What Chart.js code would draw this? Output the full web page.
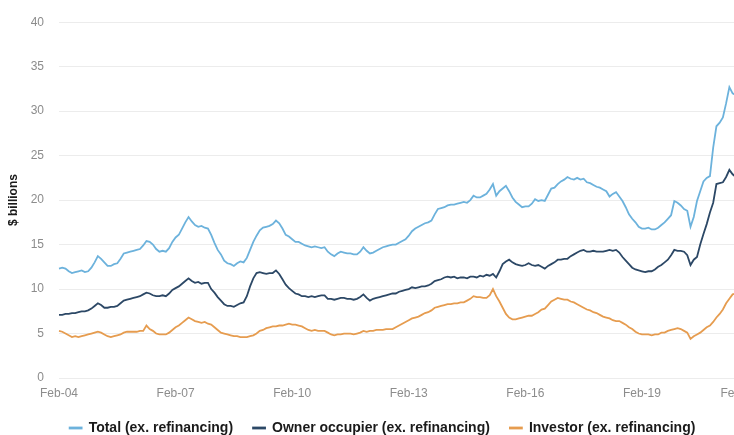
<!DOCTYPE html>
<html>
<head>
<meta charset="utf-8">
<script src="https://cdn.jsdelivr.net/npm/chart.js@4.4.0/dist/chart.umd.min.js"></script>
<style>
  html, body { margin: 0; padding: 0; background: #ffffff; overflow: hidden; width: 734px; height: 435px; }
  #wrap { position: absolute; left: 0; top: 0; width: 780px; height: 445px; }
</style>
</head>
<body>
<div id="wrap"><canvas id="c" width="780" height="445"></canvas></div>
<script>
// Month names used to build the monthly category labels (Feb-04 ... Apr-22)
const monthNames = ['Jan','Feb','Mar','Apr','May','Jun','Jul','Aug','Sep','Oct','Nov','Dec'];
const categoryCount = 219;
// Tick labels shown on the x axis
const tickLabels = ['Feb-04','Feb-07','Feb-10','Feb-13','Feb-16','Feb-19','Feb-22'];
// Y axis ticks
const yTicks = [0, 5, 10, 15, 20, 25, 30, 35, 40];

const seriesNames = ['Total (ex. refinancing)', 'Owner occupier (ex. refinancing)', 'Investor (ex. refinancing)'];

// Monthly values, $ billions, Feb-04 onward (one row per year Feb..Jan)
const total = [
  12.3, 12.4, 12.3, 12.0, 11.8, 11.9, 12.0, 12.1, 11.9, 12.0, 12.4, 13.0,
  13.7, 13.4, 13.0, 12.6, 12.6, 12.8, 12.9, 13.4, 14.0, 14.1, 14.2, 14.3,
  14.4, 14.5, 14.9, 15.4, 15.3, 15.0, 14.5, 14.2, 14.3, 14.2, 14.6, 15.3,
  15.8, 16.1, 16.8, 17.5, 18.1, 17.6, 17.2, 17.0, 17.1, 16.9, 16.8, 16.1,
  15.2, 14.4, 13.9, 13.2, 12.9, 12.8, 12.6, 12.9, 13.1, 13.0, 13.5, 14.4,
  15.3, 16.0, 16.6, 16.9, 17.0, 17.1, 17.3, 17.7, 17.4, 16.8, 16.1, 15.9,
  15.6, 15.3, 15.3, 15.1, 14.9, 14.8, 14.7, 14.8, 14.7, 14.6, 14.7, 14.2,
  13.9, 13.7, 14.0, 14.2, 14.1, 14.0, 14.0, 13.9, 13.9, 14.2, 14.7, 14.3,
  14.0, 14.1, 14.3, 14.5, 14.7, 14.8, 14.9, 15.0, 15.0, 15.2, 15.4, 15.6,
  16.0, 16.5, 16.8, 17.0, 17.2, 17.4, 17.5, 17.7, 18.4, 19.0, 19.1, 19.2,
  19.4, 19.5, 19.5, 19.6, 19.7, 19.8, 19.7, 20.0, 20.5, 20.3, 20.3, 20.5,
  20.7, 21.2, 21.8, 20.5, 21.0, 21.3, 21.6, 21.0, 20.3, 19.8, 19.5, 19.2,
  19.3, 19.3, 19.6, 20.1, 19.9, 20.0, 19.9, 20.6, 21.3, 21.4, 21.8, 22.1,
  22.3, 22.6, 22.4, 22.3, 22.5, 22.3, 22.4, 22.0, 21.9, 21.7, 21.5, 21.4,
  21.2, 21.0, 20.4, 20.7, 20.9, 20.4, 19.9, 19.2, 18.4, 17.9, 17.5, 17.0,
  16.8, 16.8, 16.9, 16.7, 16.7, 16.9, 17.2, 17.5, 17.9, 18.3, 19.9, 19.7,
  19.4, 19.0, 18.8, 17.0, 18.1, 19.9, 21.0, 22.1, 22.5, 22.7, 25.9, 28.3,
  28.7, 29.3, 30.9, 32.7, 32.0, 31.8
];
const ownerOccupier = [
  7.1, 7.1, 7.2, 7.2, 7.3, 7.3, 7.4, 7.5, 7.5, 7.6, 7.8, 8.1,
  8.4, 8.2, 7.9, 7.9, 8.0, 8.0, 8.1, 8.4, 8.7, 8.8, 8.9, 9.0,
  9.1, 9.2, 9.4, 9.6, 9.5, 9.3, 9.2, 9.2, 9.3, 9.2, 9.5, 9.9,
  10.1, 10.3, 10.6, 10.9, 11.2, 10.9, 10.7, 10.8, 10.6, 10.7, 10.7, 10.0,
  9.6, 9.1, 8.7, 8.3, 8.1, 8.1, 8.0, 8.2, 8.4, 8.5, 9.2, 10.3,
  11.2, 11.8, 11.9, 11.8, 11.7, 11.8, 11.8, 12.1, 11.7, 11.1, 10.5, 10.1,
  9.8, 9.5, 9.4, 9.2, 9.2, 9.1, 9.2, 9.1, 9.2, 9.3, 9.3, 8.9,
  8.9, 8.8, 8.9, 9.0, 9.0, 8.9, 8.9, 8.8, 8.9, 9.1, 9.4, 9.0,
  8.7, 8.9, 9.0, 9.1, 9.2, 9.3, 9.4, 9.5, 9.5, 9.7, 9.8, 9.9,
  10.0, 10.2, 10.1, 10.2, 10.3, 10.3, 10.4, 10.6, 10.9, 11.0, 11.1, 11.3,
  11.4, 11.3, 11.4, 11.2, 11.3, 11.3, 11.2, 11.4, 11.4, 11.3, 11.5, 11.4,
  11.6, 11.5, 11.7, 11.3, 12.0, 12.8, 13.1, 13.3, 13.0, 12.8, 12.7, 12.6,
  12.7, 12.9, 12.7, 12.6, 12.7, 12.5, 12.3, 12.6, 12.8, 13.0, 13.3, 13.3,
  13.4, 13.4, 13.7, 13.9, 14.1, 14.3, 14.4, 14.2, 14.2, 14.3, 14.2, 14.2,
  14.2, 14.3, 14.4, 14.3, 14.4, 14.1, 13.6, 13.2, 12.8, 12.4, 12.2, 12.1,
  12.0, 11.9, 12.0, 12.0, 12.2, 12.5, 12.7, 13.0, 13.3, 13.8, 14.4, 14.3,
  14.3, 14.2, 13.8, 12.7, 13.3, 13.6, 15.0, 16.2, 17.3, 18.6, 19.7, 21.8,
  21.9, 22.0, 22.6, 23.4, 22.9, 22.6
];
const investor = [
  5.3, 5.2, 5.0, 4.8, 4.6, 4.7, 4.6, 4.7, 4.8, 4.9, 5.0, 5.1,
  5.2, 5.1, 4.9, 4.7, 4.6, 4.7, 4.8, 4.9, 5.1, 5.2, 5.2, 5.2,
  5.2, 5.3, 5.3, 5.9, 5.5, 5.3, 5.0, 4.9, 4.9, 4.9, 5.1, 5.4,
  5.7, 5.9, 6.2, 6.5, 6.8, 6.6, 6.4, 6.3, 6.2, 6.3, 6.1, 6.0,
  5.7, 5.4, 5.1, 5.0, 4.9, 4.8, 4.7, 4.7, 4.6, 4.6, 4.6, 4.7,
  4.8, 5.0, 5.3, 5.4, 5.6, 5.7, 5.8, 5.8, 5.9, 5.9, 6.0, 6.1,
  6.0, 6.0, 5.9, 5.8, 5.6, 5.4, 5.3, 5.4, 5.3, 5.3, 5.3, 5.1,
  4.9, 4.8, 4.9, 4.9, 5.0, 5.0, 5.0, 4.9, 5.0, 5.1, 5.3, 5.2,
  5.3, 5.3, 5.4, 5.4, 5.4, 5.5, 5.5, 5.5, 5.7, 5.9, 6.1, 6.3,
  6.5, 6.7, 6.8, 6.9, 7.1, 7.3, 7.4, 7.6, 7.9, 8.0, 8.1, 8.2,
  8.3, 8.3, 8.4, 8.4, 8.5, 8.5, 8.7, 8.9, 9.2, 9.1, 9.1, 9.0,
  9.0, 9.3, 10.0, 9.2, 8.6, 7.9, 7.2, 6.8, 6.6, 6.6, 6.7, 6.8,
  6.9, 7.0, 7.0, 7.2, 7.4, 7.7, 7.8, 8.2, 8.6, 8.8, 9.0, 8.9,
  8.8, 8.8, 8.6, 8.5, 8.3, 8.1, 7.9, 7.7, 7.6, 7.4, 7.3, 7.1,
  6.9, 6.8, 6.7, 6.5, 6.4, 6.4, 6.2, 6.0, 5.7, 5.5, 5.2, 5.0,
  4.9, 4.9, 4.9, 4.8, 4.9, 4.9, 5.1, 5.1, 5.3, 5.4, 5.5, 5.6,
  5.5, 5.3, 5.1, 4.4, 4.7, 4.9, 5.1, 5.4, 5.7, 5.9, 6.3, 6.8,
  7.2, 7.7, 8.4, 8.9, 9.4, 9.5
];

const colors = ['#6cb2dc', '#2c4866', '#e69c4f'];

const categories = [];
for (let i = 0; i < categoryCount; i++) {
  const m = (1 + i) % 12;
  const y = 2004 + Math.floor((1 + i) / 12);
  categories.push(monthNames[m] + '-' + String(y % 100).padStart(2, '0'));
}

const FONT = "'Liberation Sans', Arial, Helvetica, sans-serif";
const allSeries = [total, ownerOccupier, investor];

new Chart(document.getElementById('c'), {
  type: 'line',
  data: {
    labels: categories,
    datasets: allSeries.map((d, i) => ({
      label: seriesNames[i],
      data: d,
      borderColor: colors[i],
      backgroundColor: colors[i],
      borderWidth: 1.8,
      pointRadius: 0,
      tension: 0,
      fill: false
    }))
  },
  options: {
    responsive: false,
    animation: false,
    devicePixelRatio: 1,
    layout: { padding: { top: 18, right: 15, left: 0, bottom: 0 } },
    plugins: {
      tooltip: { enabled: false },
      legend: {
        position: 'bottom',
        align: 'center',
        labels: {
          boxWidth: 12,
          boxHeight: 1,
          padding: 20,
          color: '#1a1a1a',
          font: { family: FONT, size: 14, weight: 'bold' }
        }
      }
    },
    scales: {
      x: {
        type: 'category',
        grid: { display: false, drawTicks: false },
        border: { display: false },
        afterBuildTicks: function(s) {
          // a blank leading tick, then one tick per labelled category
          const t = [{ value: 0 }];
          tickLabels.forEach(l => { t.push({ value: categories.indexOf(l) }); });
          s.ticks = t;
        },
        ticks: {
          autoSkip: false,
          maxRotation: 0,
          align: 'inner',
          padding: 8,
          color: '#8c8c8c',
          font: { family: FONT, size: 12 },
          callback: function(value, index) {
            return index === 0 ? '' : categories[value];
          }
        },
        afterFit: function(s) { s.height = 23; }
      },
      y: {
        min: 0,
        max: 40,
        afterBuildTicks: function(s) { s.ticks = yTicks.map(v => ({ value: v })); },
        grid: { color: '#ececec', lineWidth: 1, drawTicks: false },
        border: { display: false },
        ticks: {
          padding: 15,
          color: '#8c8c8c',
          font: { family: FONT, size: 12 }
        },
        title: {
          display: true,
          text: '$ billions',
          color: '#1a1a1a',
          font: { family: FONT, size: 12, weight: 'bold' },
          padding: { top: 6, bottom: 0 }
        },
        afterFit: function(s) { s.width = 59; }
      }
    }
  }
});
</script>
</body>
</html>
